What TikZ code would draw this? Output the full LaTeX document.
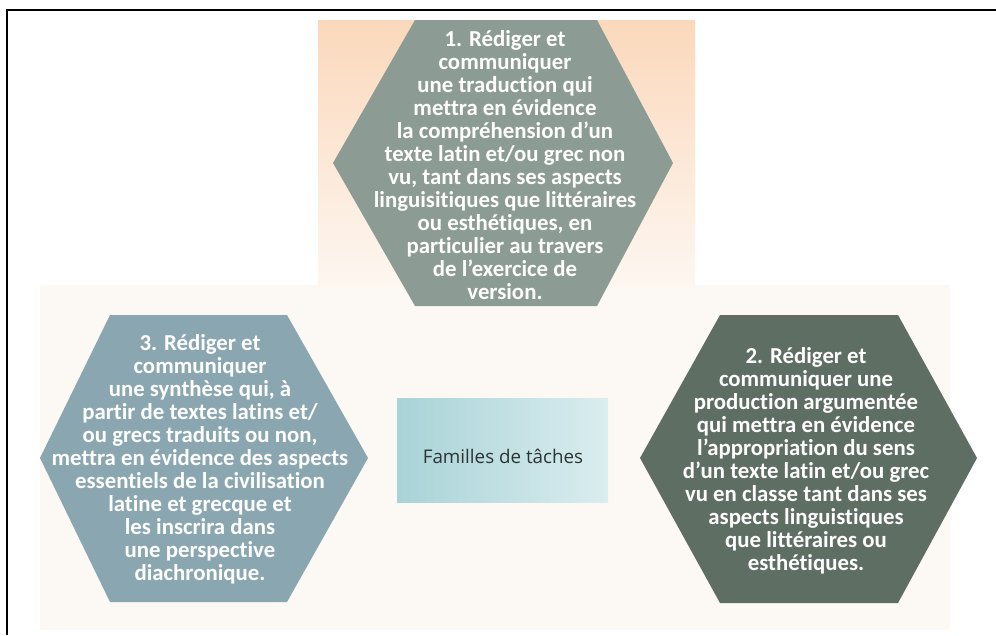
\documentclass[tikz,border=0pt]{standalone}
\usepackage{fontspec}
\setmainfont[Ligatures=NoCommon]{Carlito}
\newfontfamily\famfont{Open Sans}
\definecolor{hexone}{HTML}{8C9C94}
\definecolor{hextwo}{HTML}{5F6E62}
\definecolor{hexthree}{HTML}{8AA7B1}
\definecolor{cream}{HTML}{FCF8F3}
\definecolor{peachtop}{HTML}{FBD8BB}
\definecolor{peachbot}{HTML}{FDF7F1}
\definecolor{boxl}{HTML}{A9D3D7}
\definecolor{boxr}{HTML}{DAEDEF}
\definecolor{famc}{HTML}{2B3535}
\begin{document}
\begin{tikzpicture}[x=1pt,y=-1pt,
  hextext/.style={text=white,font=\bfseries\fontsize{22.8}{23}\selectfont,align=center,inner sep=0pt},
  famtext/.style={text=famc,font=\famfont\fontsize{18.8}{22}\selectfont,inner sep=0pt},
  fambox/.style={left color=boxl,right color=boxr,minimum width=211pt,minimum height=104pt,inner sep=0pt}]
\useasboundingbox (0,0) rectangle (996,635);
\fill[white] (0,0) rectangle (996,635);
\fill[cream] (40,285) rectangle (950,630);
\shade[top color=peachtop,bottom color=peachbot] (318,20) rectangle (695,288);
\draw[line width=2pt] (7,635) -- (7,10) -- (996,10);
% hexagon 1 (top)
\fill[hexone] (415,20) -- (597,20) -- (673,163) -- (597,306) -- (415,306) -- (333,163) -- cycle;
\node[hextext] (t1) at (505,165) {1. Rédiger et\\communiquer\\une traduction qui\\mettra en évidence\\la compréhension d’un\\texte latin et/ou grec non\\vu, tant dans ses aspects\\linguisitiques que littéraires\\ou esthétiques, en\\particulier au travers\\de l’exercice de\\version.};
% hexagon 3 (left)
\fill[hexthree] (110,315) -- (287,315) -- (368,458) -- (287,602) -- (110,602) -- (40,458) -- cycle;
\node[hextext] (t3) at (200,459) {3. Rédiger et\\communiquer\\une synthèse qui, à\\partir de textes latins et/\\ou grecs traduits ou non,\\mettra en évidence des aspects\\essentiels de la civilisation\\latine et grecque et\\les inscrira dans\\une perspective\\diachronique.};
% hexagon 2 (right)
\fill[hextwo] (720,315) -- (898,315) -- (977,458) -- (898,603) -- (720,603) -- (640,458) -- cycle;
\node[hextext] (t2) at (806,461) {2. Rédiger et\\communiquer une\\production argumentée\\qui mettra en évidence\\l’appropriation du sens\\d’un texte latin et/ou grec\\vu en classe tant dans ses\\aspects linguistiques\\que littéraires ou\\esthétiques.};
% centre box
\node[fambox] (famBox) at (502.5,450) {};
\node[famtext] (fam) at (503,456) {Familles de tâches};
\end{tikzpicture}
\end{document}
